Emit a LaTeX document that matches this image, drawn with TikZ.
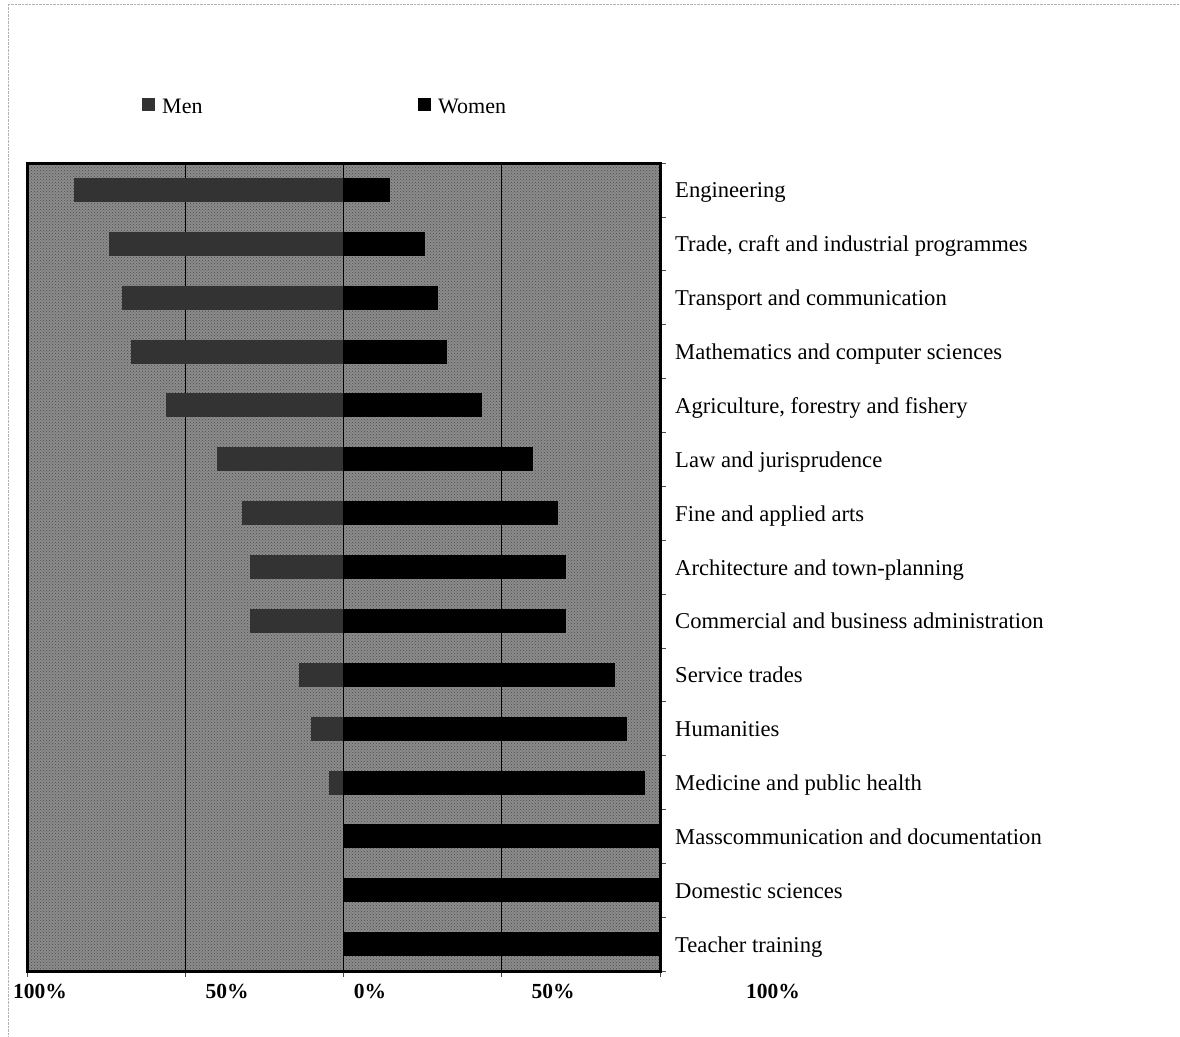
\documentclass[tikz,border=0pt]{standalone}
\usepackage{fontspec}
\setmainfont{Liberation Serif}
\usetikzlibrary{patterns}
\begin{document}
\begin{tikzpicture}[x=1pt,y=-1pt,
  lab/.style={anchor=base west, font=\fontsize{22.6}{24}\selectfont, inner sep=0pt},
  axl/.style={anchor=base, font=\fontsize{21.5}{24}\selectfont\bfseries, inner sep=0pt},
  leg/.style={anchor=base west, font=\fontsize{22}{24}\selectfont, inner sep=0pt},
  menbar/.style={fill=black!80},
  wombar/.style={fill=black},
  gridline/.style={draw=black, line width=0.8pt},
  tickmark/.style={draw=black!70, line width=0.6pt}]
\useasboundingbox (0,0) rectangle (1180,1036);
\fill[white] (0,0) rectangle (1180,1036);
\draw[gray!60, densely dotted] (8,1036) -- (8,4) -- (1180,4);
% plot area
\fill[black!45] (27,163) rectangle (660,971);
\fill[pattern=crosshatch dots, pattern color=black!70] (27,163) rectangle (660,971);
% grid
\foreach \x in {185,343,501} \draw[gridline] (\x,163) -- (\x,971);
% bars
\foreach \m [count=\i] in {85,74,70,67,56,40,32,29.5,29.5,14,10,4.5,0,0,0} {
  \pgfmathsetmacro\yc{163+53.87*(\i-0.5)}
  \fill[menbar] ({343-3.16*\m},{\yc-12}) rectangle (343,{\yc+12});
  \fill[wombar] (343,{\yc-12}) rectangle ({343+3.16*(100-\m)},{\yc+12});
}
% frame
\draw[line width=3pt] (27,163) rectangle (660,971);
\foreach \k in {0,...,15} \draw[tickmark] (661.5,{163+53.87*\k}) -- (666,{163+53.87*\k});
\foreach \x in {27,185,343,501,660} \draw[tickmark] (\x,972.5) -- (\x,977);
% category labels
\foreach \t [count=\i] in {Engineering,
  {Trade, craft and industrial programmes},
  Transport and communication,
  Mathematics and computer sciences,
  {Agriculture, forestry and fishery},
  Law and jurisprudence,
  Fine and applied arts,
  Architecture and town-planning,
  Commercial and business administration,
  Service trades,
  Humanities,
  Medicine and public health,
  Masscommunication and documentation,
  Domestic sciences,
  Teacher training} {
  \pgfmathsetmacro\yb{163+53.87*(\i-0.5)+8}
  \node[lab] (cat\i) at (675,\yb) {\t};
}
% axis labels
\node[axl] (ax1) at (40,998) {100\%};
\node[axl] (ax2) at (227,998) {50\%};
\node[axl] (ax3) at (370,998) {0\%};
\node[axl] (ax4) at (553,998) {50\%};
\node[axl] (ax5) at (773,998) {100\%};
% legend
\fill[menbar] (142,98) rectangle (155,111);
\node[leg] (legmen) at (162,113) {Men};
\fill[wombar] (418,98) rectangle (431,111);
\node[leg] (legwomen) at (438,113) {Women};
\end{tikzpicture}
\end{document}
